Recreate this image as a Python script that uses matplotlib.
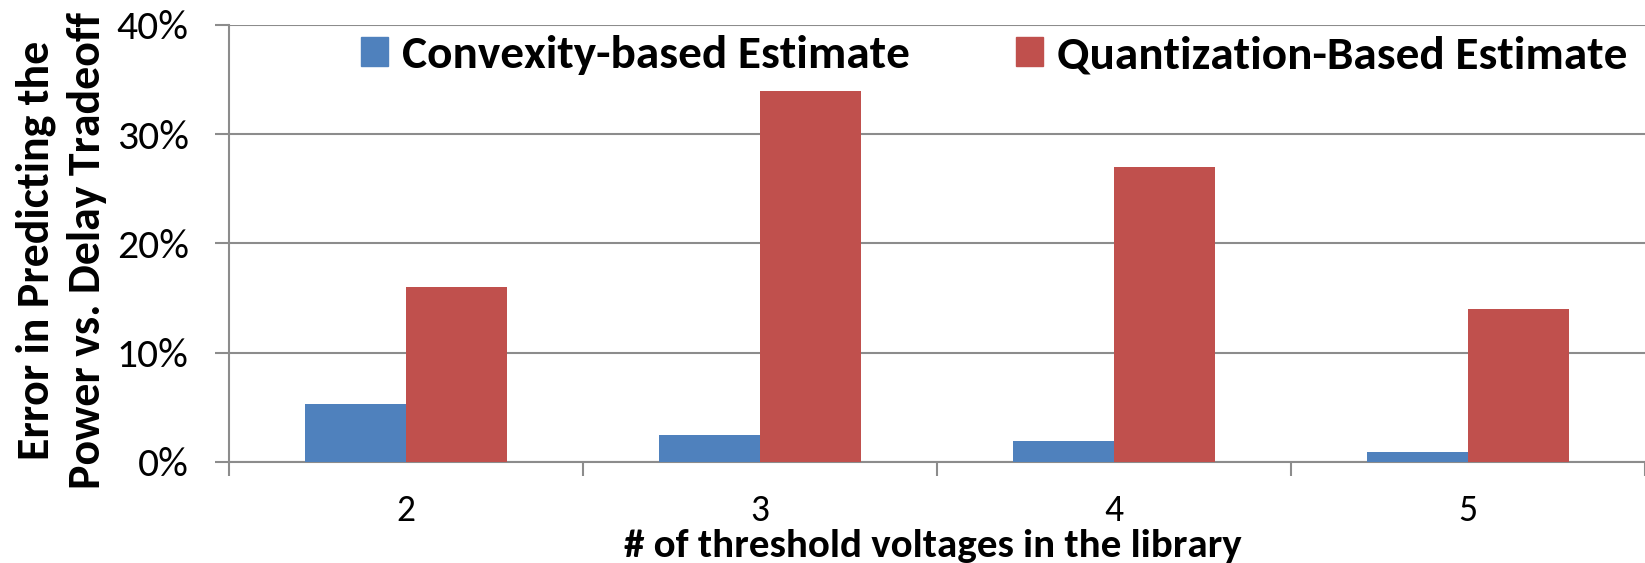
import numpy as np
import matplotlib.pyplot as plt
from matplotlib.patches import Patch
from matplotlib.ticker import PercentFormatter, FixedLocator

# data
categories = ["2", "3", "4", "5"]
convexity = [5.3, 2.5, 1.9, 0.9]
quantization = [16.0, 34.0, 27.0, 14.0]
series_names = ["Convexity-based Estimate", "Quantization-Based Estimate"]

blue = "#4F81BD"
red = "#C0504D"
grey = "#8C8C8C"
calibri = ["Carlito", "DejaVu Sans"]

fig = plt.figure(figsize=(16.45, 5.63), dpi=100)
ax = fig.add_axes([0.1392, 0.1794, 0.8608, 0.7762])

x = np.arange(len(categories))
w = 0.286
ax.bar(x - w / 2, convexity, w, color=blue, zorder=3)
ax.bar(x + w / 2, quantization, w, color=red, zorder=3)

ax.set_xlim(-0.5, len(categories) - 0.5)
ax.set_ylim(0, 40)
ax.set_yticks([0, 10, 20, 30, 40])
ax.yaxis.set_major_formatter(PercentFormatter(decimals=0))
ax.grid(axis="y", color=grey, linewidth=1.5, zorder=0)

ax.set_xticks(x)
ax.set_xticklabels(categories, fontfamily=calibri, fontsize=27)
ax.tick_params(axis="x", which="major", length=0, pad=23)
ax.xaxis.set_minor_locator(FixedLocator(np.arange(-0.5, len(categories), 1.0)))
ax.tick_params(axis="x", which="minor", length=10, width=1.5, color=grey)
ax.tick_params(axis="y", length=10, width=1.5, color=grey, labelsize=30, pad=19)
for lab in ax.get_yticklabels():
    lab.set_fontfamily(calibri)

for s in ["top", "right"]:
    ax.spines[s].set_visible(False)
for s in ["left", "bottom"]:
    ax.spines[s].set_color(grey)
    ax.spines[s].set_linewidth(1.5)

fig.text(0.037, 0.555, "Error in Predicting the\nPower vs. Delay Tradeoff",
         rotation=90, ha="center", va="center", fontsize=33, fontweight="bold",
         fontfamily=calibri, linespacing=1.33)
fig.text(0.567, 1 - 557 / 563, "# of threshold voltages in the library", ha="center",
         va="baseline", fontsize=29.5, fontweight="bold", fontfamily=calibri)

handles = [Patch(color=blue), Patch(color=red)]
fig.legend(handles, series_names, loc="center left", bbox_to_anchor=(361 / 1645, 1 - 55 / 563),
           ncol=2, frameon=False, borderpad=0, borderaxespad=0,
           handlelength=0.57, handleheight=0.57, handletextpad=0.3, columnspacing=2.25,
           prop={"family": calibri, "weight": "bold", "size": 34})

fig.savefig("out.png", dpi=100)
